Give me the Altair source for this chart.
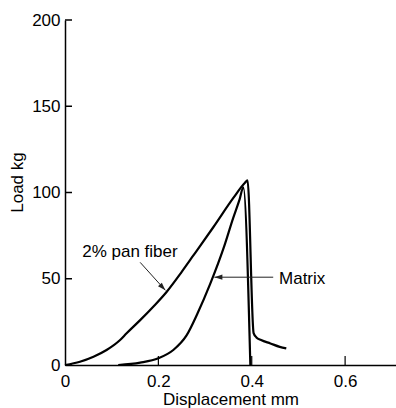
import altair as alt
import pandas as pd

# Load-displacement curves: 2% PAN fiber composite vs. plain matrix
pan_disp = [0, 0.032, 0.061, 0.089, 0.118, 0.132, 0.161, 0.189, 0.218, 0.25,
            0.275, 0.318, 0.361, 0.385, 0.391, 0.404, 0.41, 0.42, 0.44, 0.46, 0.474]
pan_load = [0, 1.9, 4.8, 8.7, 14.5, 18.4, 26, 33.8, 42.5, 54,
            63.5, 80, 97, 105.5, 107, 18.5, 16, 14.5, 12.5, 10.5, 9.6]

matrix_disp = [0.114, 0.161, 0.2, 0.232, 0.26, 0.284, 0.311, 0.34, 0.36, 0.374,
               0.382, 0.397]
matrix_load = [0, 1.4, 3.9, 8.7, 17, 30, 47, 68, 85, 96, 103, 0]

x_ticks = [0, 0.2, 0.4, 0.6]
y_ticks = [0, 50, 100, 150, 200]

# Callouts: label text, label centre, arrow tail and arrow head (data units)
callout_text = ["2% pan fiber", "Matrix"]
callout_x = [0.139, 0.508]
callout_y = [62.6, 46.9]
arrow_x = [0.161, 0.446]
arrow_y = [59.5, 50.9]
arrow_x2 = [0.215, 0.32]
arrow_y2 = [43.3, 50.9]
arrow_angle = [47, 180]

FONT = "Liberation Sans"
W, H = 331, 345

curves = pd.concat([
    pd.DataFrame({"disp": pan_disp, "load": pan_load, "series": "pan",
                  "order": range(len(pan_disp))}),
    pd.DataFrame({"disp": matrix_disp, "load": matrix_load, "series": "matrix",
                  "order": range(len(matrix_disp))}),
])
callouts = pd.DataFrame({
    "text": callout_text, "tx": callout_x, "ty": callout_y,
    "ax": arrow_x, "ay": arrow_y, "ax2": arrow_x2, "ay2": arrow_y2,
    "angle": arrow_angle,
})

xs = alt.Scale(domain=[0, 0.709], nice=False, zero=False)
ys = alt.Scale(domain=[0, 200], nice=False)

axis_common = dict(
    ticks=False, grid=False, domainColor="black", domainWidth=1.5,
    labelFont=FONT, labelFontSize=17, labelColor="black", labelFlush=False,
    titleFont=FONT, titleFontSize=17, titleColor="black", titleFontWeight="normal",
)
x_axis = alt.Axis(values=x_ticks, format="~g", labelPadding=8,
                  title="Displacement mm", titleBaseline="top", titleY=26,
                  **axis_common)
y_axis = alt.Axis(values=y_ticks, labelPadding=5, title="Load kg",
                  titleBaseline="top", titleX=-56, titleY=162, **axis_common)


def X(field):
    return alt.X(field, type="quantitative", scale=xs, axis=x_axis)


def Y(field):
    return alt.Y(field, type="quantitative", scale=ys, axis=y_axis)


lines = alt.Chart(curves).mark_line(
    color="black", strokeWidth=2.2, interpolate="monotone").encode(
    x=X("disp"), y=Y("load"), detail="series:N", order="order:Q")

# inward-pointing tick marks
ytick_rules = alt.Chart(pd.DataFrame({"v": y_ticks})).mark_rule(
    color="black", strokeWidth=1.5).encode(
    y=Y("v"), x=alt.value(0), x2=alt.value(7))
xtick_rules = alt.Chart(pd.DataFrame({"v": x_ticks[1:]})).mark_rule(
    color="black", strokeWidth=1.2).encode(
    x=X("v"), y=alt.value(H), y2=alt.value(H - 9))

arrow_lines = alt.Chart(callouts).mark_rule(color="#222", strokeWidth=1).encode(
    x=X("ax"), y=Y("ay"), x2="ax2:Q", y2="ay2:Q")
arrow_heads = alt.Chart(callouts).mark_point(
    shape="M0,0L-2,-0.65L-2,0.65Z", filled=True, color="#222", opacity=1,
    size=64).encode(
    x=X("ax2"), y=Y("ay2"), angle=alt.Angle("angle:Q", scale=None))

labels = alt.Chart(callouts).mark_text(
    font=FONT, fontSize=17, color="black", baseline="alphabetic", align="center").encode(
    x=X("tx"), y=Y("ty"), text="text:N")

chart = alt.layer(lines, ytick_rules, xtick_rules, arrow_lines, arrow_heads, labels).properties(
    width=W, height=H,
    autosize=alt.AutoSizeParams(type="none"),
    padding={"left": 65, "top": 20, "right": 0, "bottom": 43},
    background="white",
).configure_view(stroke=None)

chart.save("out.html", embed_options={"renderer": "svg", "actions": False})
